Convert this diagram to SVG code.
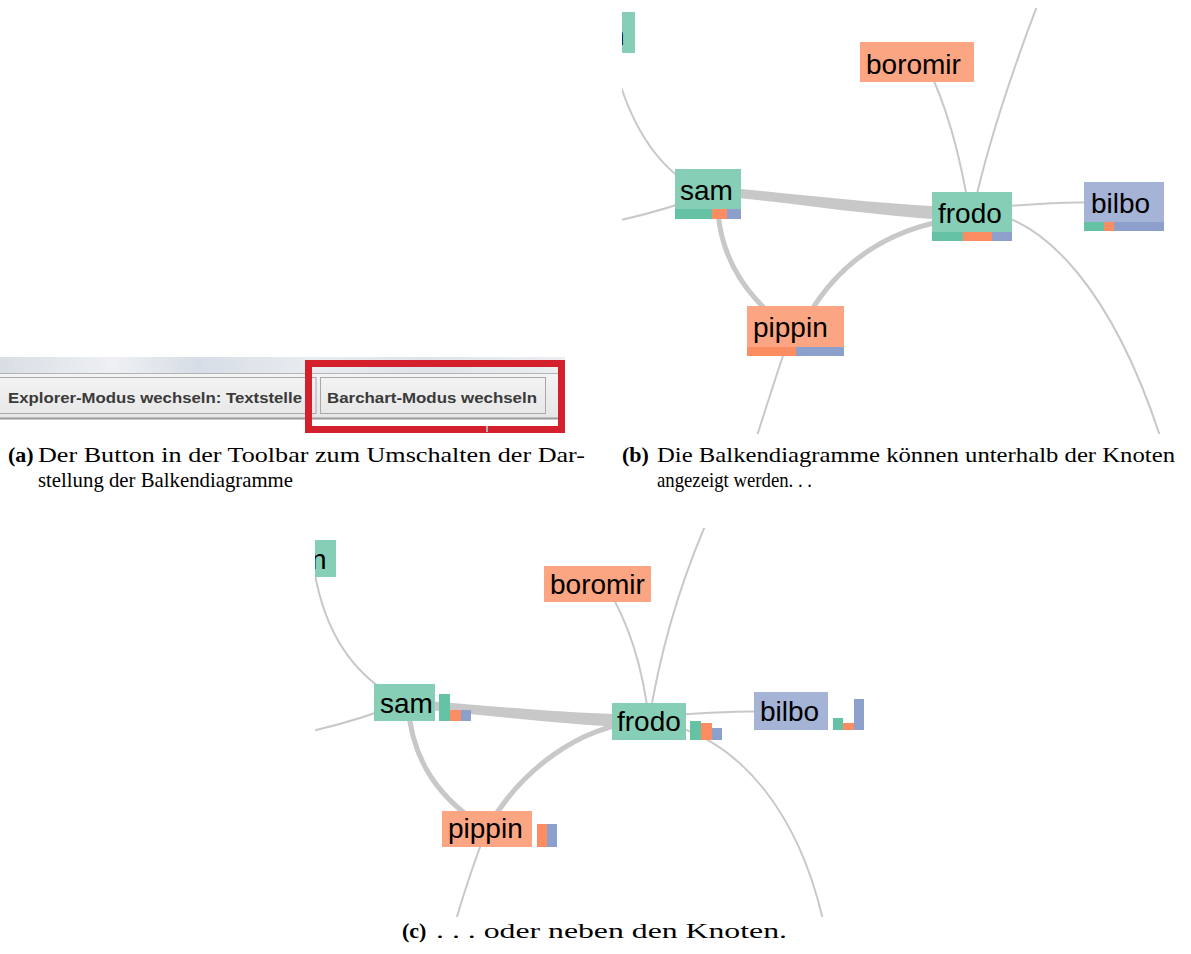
<svg xmlns="http://www.w3.org/2000/svg" width="1191" height="954" viewBox="0 0 1191 954">
<style>
.e{fill:none;stroke:#c8c8c8;stroke-width:2;stroke-linecap:round}
.ew{fill:none;stroke:#c8c8c8;stroke-width:5;stroke-linecap:round}
.band{fill:#c8c8c8}
.ng{fill:#86cfb6}
.no{fill:#fca582}
.nb{fill:#a5b3d6}
.bg{fill:#66c2a5}
.bo{fill:#fc8d62}
.bb{fill:#8da0cb}
.lb{font-family:"Liberation Sans",Arial,sans-serif;font-size:28px;fill:#000}
.cap{font-family:"Liberation Serif","Times New Roman",serif;font-size:22px;fill:#000}
.capb{font-family:"Liberation Serif","Times New Roman",serif;font-size:22px;font-weight:bold;fill:#000}
.tb{font-family:"Liberation Sans",Arial,sans-serif;font-size:15px;font-weight:bold;fill:#3a3a3a}
</style>
<defs>
<clipPath id="clipB"><rect x="622" y="8" width="569" height="426"/></clipPath>
<clipPath id="clipC"><rect x="315" y="528" width="560" height="389"/></clipPath>
<clipPath id="clipA"><rect x="0" y="357" width="565" height="76"/></clipPath>
<linearGradient id="tbTop" x1="0" y1="0" x2="1" y2="0">
<stop offset="0" stop-color="#d9dee5"/>
<stop offset="0.2" stop-color="#eef0f3"/>
<stop offset="0.35" stop-color="#d7dde6"/>
<stop offset="0.55" stop-color="#e9ecf0"/>
<stop offset="0.75" stop-color="#dfe3e9"/>
<stop offset="1" stop-color="#eceef0"/>
</linearGradient>
<linearGradient id="btn" x1="0" y1="0" x2="0" y2="1">
<stop offset="0" stop-color="#f4f4f4"/>
<stop offset="1" stop-color="#e6e6e6"/>
</linearGradient>
</defs>

<!-- Panel (a): toolbar screenshot -->
<g id="toolbar" clip-path="url(#clipA)">
<rect x="0" y="357" width="565" height="76" fill="#ffffff"/>
<rect x="0" y="357" width="565" height="16" fill="url(#tbTop)"/>
<rect x="0" y="373" width="565" height="46" fill="url(#btn)"/>
<line x1="0" y1="373.5" x2="565" y2="373.5" stroke="#b4b4b4" stroke-width="1"/>
<line x1="0" y1="418.5" x2="565" y2="418.5" stroke="#9a9a9a" stroke-width="2"/>
<rect x="-2" y="377.5" width="318" height="36" fill="none" stroke="#a8a8a8" stroke-width="1"/>
<rect x="320.5" y="377.5" width="225" height="36" fill="none" stroke="#a8a8a8" stroke-width="1"/>
<text class="tb" x="8" y="403" textLength="294" lengthAdjust="spacingAndGlyphs">Explorer-Modus wechseln: Textstelle</text>
<text class="tb" x="327" y="403" textLength="210" lengthAdjust="spacingAndGlyphs">Barchart-Modus wechseln</text>
<rect x="308.5" y="363.5" width="253" height="66" fill="none" stroke="#d4202c" stroke-width="7"/>
<rect x="486" y="426" width="2" height="6" fill="#b0b0b0"/>
</g>

<!-- Panel (b) -->
<g clip-path="url(#clipB)">
<g id="edges-b">
<path class="e" d="M 612,55 Q 638,165 708,194"/>
<path class="e" d="M 612,222 Q 660,212 708,194"/>
<path class="band" d="M 708,186 C 800,194 880,205 972,208 L 972,221 C 880,218 800,203 708,195 Z"/>
<path class="ew" d="M 718,212 C 722,262 748,298 790,331"/>
<path class="ew" d="M 962,218 C 880,228 830,270 800,331"/>
<path class="e" d="M 925,62 Q 955,120 970,216"/>
<path class="e" d="M 1037,6 Q 990,130 972,216"/>
<path class="e" d="M 990,208 Q 1040,202 1124,202"/>
<path class="e" d="M 985,212 C 1045,220 1112,290 1160,436"/>
<path class="e" d="M 790,335 Q 774,382 757,436"/>
</g>
<g id="b-partial">
<rect class="ng" x="600" y="12" width="35" height="41"/>
<text class="lb" x="609" y="45">n</text>
</g>
<g id="b-boromir">
<rect class="no" x="860" y="42" width="114" height="40"/>
<text class="lb" x="866" y="74">boromir</text>
</g>
<g id="b-sam">
<rect class="ng" x="675" y="169" width="66" height="50"/>
<rect class="bg" x="675" y="209" width="37" height="10"/>
<rect class="bo" x="712" y="209" width="15" height="10"/>
<rect class="bb" x="727" y="209" width="14" height="10"/>
<text class="lb" x="680" y="200">sam</text>
</g>
<g id="b-frodo">
<rect class="ng" x="932" y="192" width="80" height="49"/>
<rect class="bg" x="932" y="232" width="31" height="9"/>
<rect class="bo" x="963" y="232" width="29" height="9"/>
<rect class="bb" x="992" y="232" width="20" height="9"/>
<text class="lb" x="938" y="223">frodo</text>
</g>
<g id="b-bilbo">
<rect class="nb" x="1084" y="182" width="80" height="49"/>
<rect class="bg" x="1084" y="222" width="20" height="9"/>
<rect class="bo" x="1104" y="222" width="10" height="9"/>
<rect class="bb" x="1114" y="222" width="50" height="9"/>
<text class="lb" x="1091" y="213">bilbo</text>
</g>
<g id="b-pippin">
<rect class="no" x="747" y="306" width="97" height="50"/>
<rect class="bo" x="747" y="347" width="49" height="9"/>
<rect class="bb" x="796" y="347" width="48" height="9"/>
<text class="lb" x="753" y="337">pippin</text>
</g>
</g>

<!-- Panel (c) -->
<g clip-path="url(#clipC)">
<g id="edges-c">
<path class="e" d="M 312,555 Q 325,665 405,702"/>
<path class="e" d="M 312,731 Q 360,720 405,702"/>
<path class="band" d="M 405,699 C 490,706 570,714 649,715 L 649,728 C 570,726 490,715 405,708 Z"/>
<path class="ew" d="M 408,705 C 412,762 440,800 487,829"/>
<path class="ew" d="M 640,722 C 580,726 520,770 487,829"/>
<path class="e" d="M 605,584 Q 640,640 649,721"/>
<path class="e" d="M 705,526 Q 665,620 649,721"/>
<path class="e" d="M 660,716 Q 720,711 791,711"/>
<path class="e" d="M 660,722 C 745,740 800,820 823,920"/>
<path class="e" d="M 487,829 Q 470,872 456,920"/>
</g>
<g id="c-partial">
<rect class="ng" x="290" y="540" width="46" height="37"/>
<text class="lb" x="311" y="569">n</text>
</g>
<g id="c-boromir">
<rect class="no" x="544" y="566" width="107" height="36"/>
<text class="lb" x="550" y="594">boromir</text>
</g>
<g id="c-sam">
<rect class="ng" x="374" y="684" width="61" height="37"/>
<text class="lb" x="380" y="713">sam</text>
<rect class="bg" x="439" y="694" width="11" height="27"/>
<rect class="bo" x="450" y="710" width="11" height="11"/>
<rect class="bb" x="461" y="710" width="10" height="11"/>
</g>
<g id="c-frodo">
<rect class="ng" x="612" y="703" width="74" height="37"/>
<text class="lb" x="617" y="731">frodo</text>
<rect class="bg" x="690" y="721" width="11" height="19"/>
<rect class="bo" x="701" y="723" width="11" height="17"/>
<rect class="bb" x="712" y="728" width="10" height="12"/>
</g>
<g id="c-bilbo">
<rect class="nb" x="754" y="692" width="74" height="38"/>
<text class="lb" x="760" y="721">bilbo</text>
<rect class="bg" x="833" y="718" width="10" height="12"/>
<rect class="bo" x="843" y="723" width="11" height="7"/>
<rect class="bb" x="854" y="699" width="10" height="31"/>
</g>
<g id="c-pippin">
<rect class="no" x="442" y="811" width="90" height="36"/>
<text class="lb" x="448" y="838">pippin</text>
<rect class="bo" x="537" y="824" width="10" height="23"/>
<rect class="bb" x="547" y="824" width="10" height="23"/>
</g>
</g>

<!-- Captions -->
<g id="captions">
<text class="capb" x="8" y="462">(a)</text>
<text class="cap" x="38" y="462" textLength="547" lengthAdjust="spacingAndGlyphs">Der Button in der Toolbar zum Umschalten der Dar-</text>
<text class="cap" x="38" y="487" textLength="255" lengthAdjust="spacingAndGlyphs">stellung der Balkendiagramme</text>
<text class="capb" x="622" y="462">(b)</text>
<text class="cap" x="657" y="462" textLength="518" lengthAdjust="spacingAndGlyphs">Die Balkendiagramme können unterhalb der Knoten</text>
<text class="cap" x="657" y="487" textLength="155" lengthAdjust="spacingAndGlyphs">angezeigt werden. . .</text>
<text class="capb" x="402" y="938">(c)</text>
<text class="cap" x="436" y="938" textLength="351" lengthAdjust="spacingAndGlyphs">. . . oder neben den Knoten.</text>
</g>
</svg>
